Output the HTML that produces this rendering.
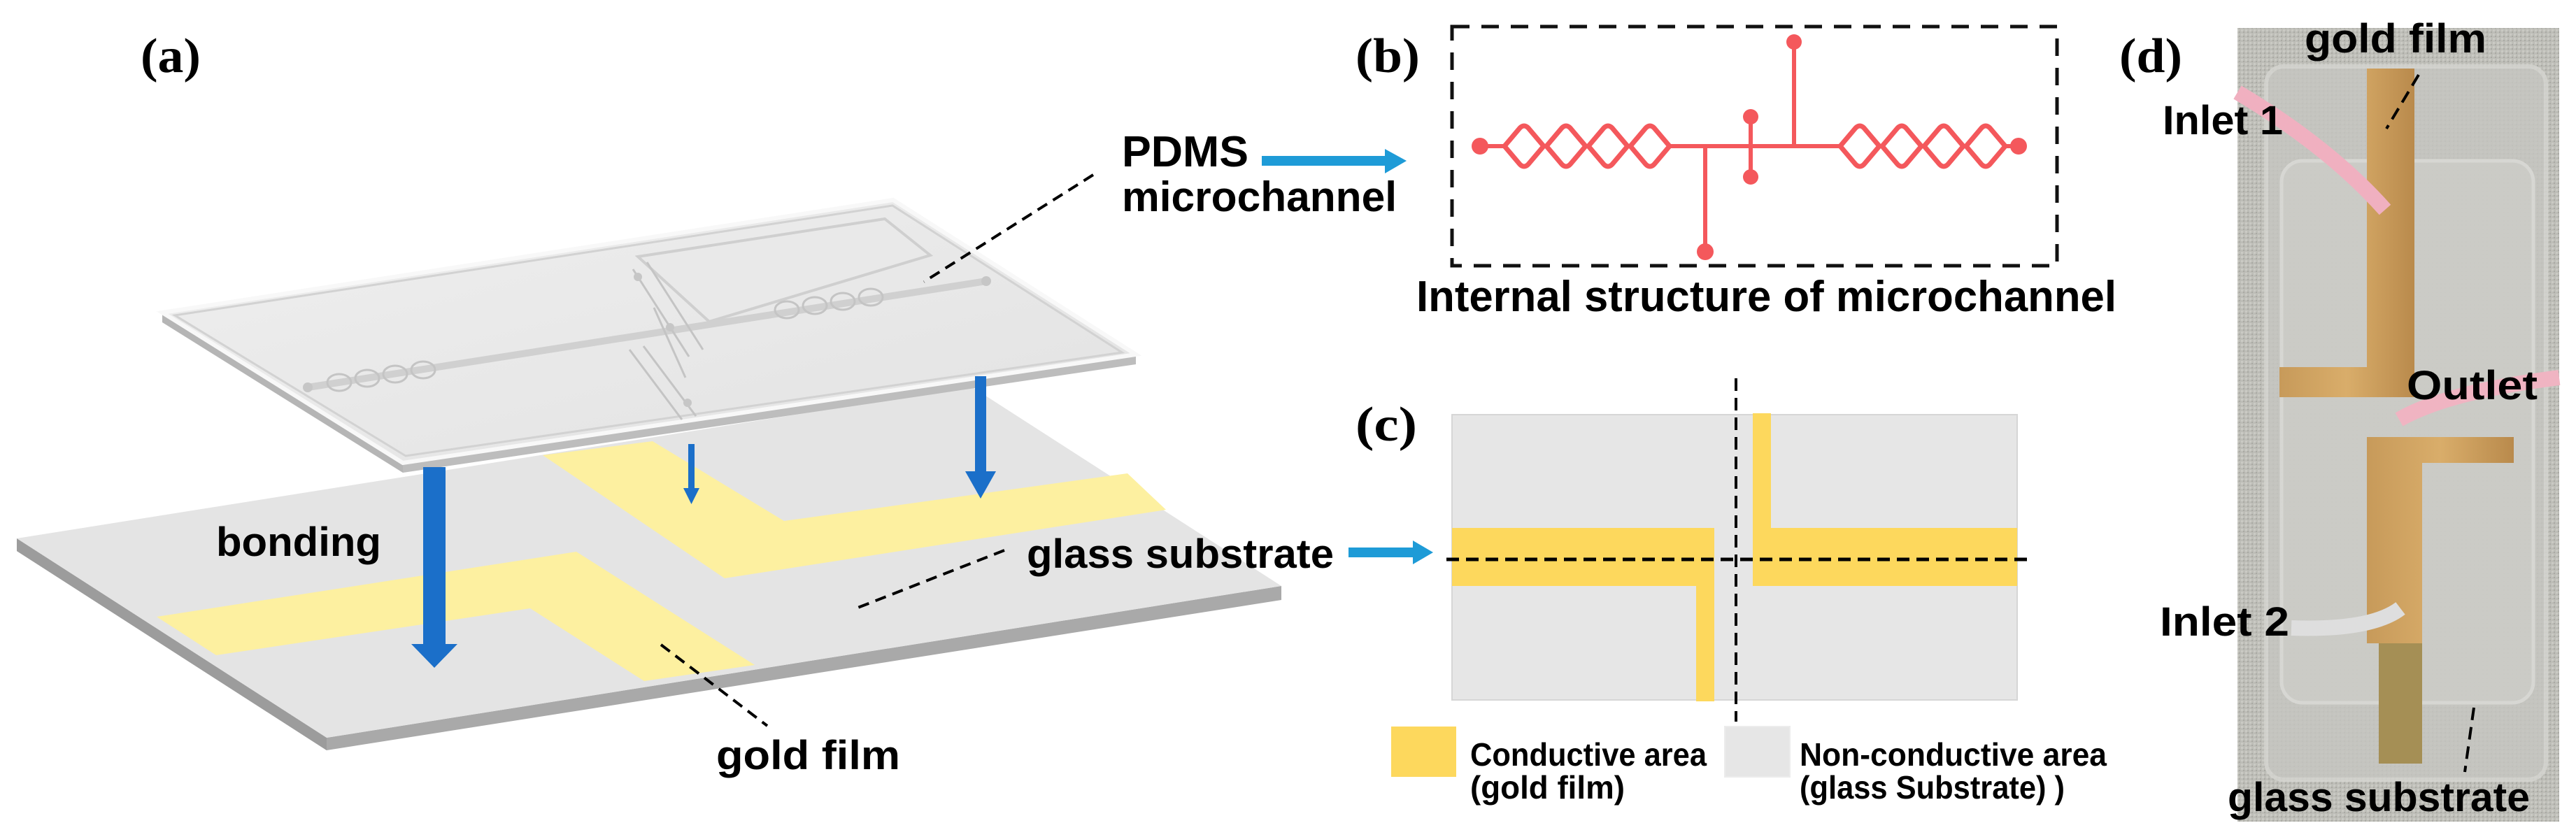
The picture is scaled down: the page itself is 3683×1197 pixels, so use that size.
<!DOCTYPE html>
<html><head><meta charset="utf-8"><style>
html,body{margin:0;padding:0;background:#fff;}
svg{display:block;}
text{font-family:"Liberation Sans",sans-serif;font-weight:bold;fill:#000;}
.ser{font-family:"Liberation Serif",serif;font-weight:bold;}
</style></head><body>
<svg width="3683" height="1197" viewBox="0 0 3683 1197" xmlns="http://www.w3.org/2000/svg">
<defs>
<linearGradient id="topg" x1="0" y1="0" x2="1" y2="1">
<stop offset="0" stop-color="#efefef"/><stop offset="1" stop-color="#e2e2e2"/></linearGradient>
<linearGradient id="gold1" x1="0" y1="0" x2="1" y2="0">
<stop offset="0" stop-color="#c79a5a"/><stop offset="0.5" stop-color="#d9ad6a"/><stop offset="1" stop-color="#b98a4c"/></linearGradient>
<pattern id="fab" width="6" height="6" patternUnits="userSpaceOnUse">
<rect width="6" height="6" fill="#bdbdb7"/><rect x="0" y="0" width="3" height="3" fill="#cacac4"/><rect x="3" y="3" width="2" height="2" fill="#a9a9a3"/></pattern>
</defs>

<text class="ser" x="201" y="103" font-size="70" textLength="86" lengthAdjust="spacingAndGlyphs">(a)</text>

<polygon points="24,770 467,1055 1832,838 1832,858 467,1073 24,788" fill="#a9a9a9"/>
<polygon points="24,770 467,1055 467,1073 24,788" fill="#9c9c9c"/>
<polygon points="24,770 467,1055 1832,838 1389,553" fill="#e4e4e4"/>
<polygon points="224,882 824,789 1079,951 921,974 758,870 309,937" fill="#fdf0a0"/>
<polygon points="776,651 933,631 1121,745 1612,677 1667,729 1036,827" fill="#fdf0a0"/>

<polygon points="232,447 576,662 576,676 232,461" fill="#b5b5b5"/>
<polygon points="576,662 1624,507 1624,521 576,676" fill="#bdbdbd"/>
<polygon points="232,447 1277,286 1624,507 576,662" fill="url(#topg)"/>
<polygon points="232,447 1277,286 1624,507 576,662" fill="none" stroke="#f8f8f8" stroke-width="6"/>
<polygon points="250,451 1276,294 1604,504 580,652" fill="none" stroke="#d2d2d2" stroke-width="3"/>
<polygon points="912,367 1265,313 1330,365 1014,460" fill="#e9e9e9" stroke="#cfcfcf" stroke-width="4"/>
<path d="M440,554 L1410,402" stroke="#d0d0d0" stroke-width="10"/>
<g fill="none" stroke="#c4c4c4" stroke-width="3">
<ellipse cx="485" cy="547" rx="17" ry="12"/><ellipse cx="525" cy="541" rx="17" ry="12"/><ellipse cx="565" cy="535" rx="17" ry="12"/><ellipse cx="605" cy="529" rx="17" ry="12"/>
<ellipse cx="1125" cy="443" rx="17" ry="12"/><ellipse cx="1165" cy="437" rx="17" ry="12"/><ellipse cx="1205" cy="431" rx="17" ry="12"/><ellipse cx="1245" cy="425" rx="17" ry="12"/>
<path d="M905,385 L985,510"/><path d="M925,375 L1005,500"/><path d="M935,440 L980,540"/><path d="M900,500 L975,600"/><path d="M920,495 L995,595"/>
</g>
<g fill="#c6c6c6"><circle cx="440" cy="554" r="7"/><circle cx="1410" cy="402" r="7"/><circle cx="912" cy="396" r="6"/><circle cx="958" cy="468" r="6"/><circle cx="983" cy="576" r="6"/></g>

<g fill="#1b6fc9">
<rect x="605" y="668" width="32" height="256"/><polygon points="588,921 654,921 621,955"/>
<rect x="984" y="635" width="9" height="65"/><polygon points="977,698 1000,698 988.5,721"/>
<rect x="1394" y="538" width="16" height="140"/><polygon points="1380,674 1424,674 1402,713"/>
</g>

<g stroke="#000" stroke-width="4" stroke-dasharray="16,10" fill="none">
<path d="M1563,250 L1321,403"/>
<path d="M1436,787 L1224,870"/>
<path d="M945,922 L1097,1038"/>
</g>
<text x="309" y="795" font-size="58" textLength="236" lengthAdjust="spacingAndGlyphs">bonding</text>
<text x="1468" y="812" font-size="58" textLength="439" lengthAdjust="spacingAndGlyphs">glass substrate</text>
<text x="1024" y="1100" font-size="58" textLength="263" lengthAdjust="spacingAndGlyphs">gold film</text>
<text x="1604" y="238" font-size="62" textLength="181" lengthAdjust="spacingAndGlyphs">PDMS</text>
<text x="1604" y="302" font-size="60" textLength="393" lengthAdjust="spacingAndGlyphs">microchannel</text>

<g fill="#1e9bd7">
<rect x="1804" y="223" width="180" height="14"/><polygon points="1980,213 2011,230 1980,248"/>
<rect x="1928" y="783" width="95" height="14"/><polygon points="2020,773 2049,790 2020,807"/>
</g>

<text class="ser" x="1938" y="103" font-size="70" textLength="92" lengthAdjust="spacingAndGlyphs">(b)</text>
<rect x="2076" y="38" width="865" height="342" fill="none" stroke="#111" stroke-width="5" stroke-dasharray="25,17"/>
<g stroke="#f4585c" stroke-width="6" fill="none">
<path d="M2116,209 L2151,209 M2387,209 L2631,209 M2867,209 L2886,209"/>
<path d="M2438,209 L2438,360 M2503,167 L2503,253 M2565,60 L2565,209"/>
</g>
<g stroke="#f4585c" stroke-width="7" fill="#fff">
<path d="M2151,209 L2173,183 Q2179,177 2185,183 L2207,209 L2185,235 Q2179,241 2173,235 Z"/>
<path d="M2211,209 L2233,183 Q2239,177 2245,183 L2267,209 L2245,235 Q2239,241 2233,235 Z"/>
<path d="M2271,209 L2293,183 Q2299,177 2305,183 L2327,209 L2305,235 Q2299,241 2293,235 Z"/>
<path d="M2331,209 L2353,183 Q2359,177 2365,183 L2387,209 L2365,235 Q2359,241 2353,235 Z"/>
<path d="M2631,209 L2653,183 Q2659,177 2665,183 L2687,209 L2665,235 Q2659,241 2653,235 Z"/>
<path d="M2691,209 L2713,183 Q2719,177 2725,183 L2747,209 L2725,235 Q2719,241 2713,235 Z"/>
<path d="M2751,209 L2773,183 Q2779,177 2785,183 L2807,209 L2785,235 Q2779,241 2773,235 Z"/>
<path d="M2811,209 L2833,183 Q2839,177 2845,183 L2867,209 L2845,235 Q2839,241 2833,235 Z"/>
</g>
<g fill="#f4585c">
<circle cx="2116" cy="209" r="12"/><circle cx="2886" cy="209" r="12"/>
<circle cx="2438" cy="360" r="12"/><circle cx="2503" cy="167" r="11"/><circle cx="2503" cy="253" r="11"/><circle cx="2565" cy="60" r="11"/>
</g>
<text x="2025" y="445" font-size="62" textLength="1001" lengthAdjust="spacingAndGlyphs">Internal structure of microchannel</text>

<text class="ser" x="1938" y="630" font-size="70" textLength="88" lengthAdjust="spacingAndGlyphs">(c)</text>
<rect x="2076" y="593" width="808" height="408" fill="#e6e6e6" stroke="#d6d6d6" stroke-width="2"/>
<g fill="#fdd85d">
<rect x="2076" y="755" width="375" height="83"/><rect x="2425" y="755" width="26" height="248"/>
<rect x="2506" y="755" width="378" height="83"/><rect x="2506" y="591" width="26" height="170"/>
</g>
<g stroke="#000" stroke-width="4" stroke-dasharray="18,10" fill="none">
<path d="M2482,541 L2482,1032"/>
<path d="M2068,800 L2902,800" stroke-width="5"/>
</g>
<rect x="1989" y="1039" width="93" height="72" fill="#fdd85d"/>
<rect x="2466" y="1039" width="93" height="72" fill="#e6e6e6" stroke="#ececec" stroke-width="2"/>
<text x="2102" y="1095" font-size="46" font-weight="normal" textLength="338" lengthAdjust="spacingAndGlyphs">Conductive area</text>
<text x="2102" y="1142" font-size="46" font-weight="normal" textLength="221" lengthAdjust="spacingAndGlyphs">(gold film)</text>
<text x="2573" y="1095" font-size="46" font-weight="normal" textLength="439" lengthAdjust="spacingAndGlyphs">Non-conductive area</text>
<text x="2573" y="1142" font-size="46" font-weight="normal" textLength="379" lengthAdjust="spacingAndGlyphs">(glass Substrate) )</text>

<text class="ser" x="3030" y="103" font-size="70" textLength="90" lengthAdjust="spacingAndGlyphs">(d)</text>
<rect x="3199" y="40" width="460" height="1135" fill="url(#fab)"/>
<rect x="3240" y="95" width="400" height="1020" rx="25" fill="#c6c6c1" opacity="0.8" stroke="#d6d6d2" stroke-width="6"/>
<rect x="3262" y="230" width="360" height="775" rx="30" fill="#cdcdc8" opacity="0.8" stroke="#dcdcd8" stroke-width="5"/>
<polygon points="3384,98 3452,98 3452,568 3259,568 3259,525 3384,525" fill="url(#gold1)"/>
<polygon points="3384,625 3594,625 3594,662 3463,662 3463,920 3384,920" fill="url(#gold1)"/>
<rect x="3401" y="920" width="62" height="172" fill="#a58f55"/>
<path d="M3199,132 Q3330,210 3410,300" stroke="#f0b0c0" stroke-width="22" fill="none"/>
<path d="M3659,540 Q3500,560 3430,600" stroke="#f0b4c2" stroke-width="22" fill="none"/>
<path d="M3276,898 Q3390,902 3432,870" stroke="#dedede" stroke-width="22" fill="none"/>
<g stroke="#000" stroke-width="4" stroke-dasharray="18,10" fill="none">
<path d="M3458,107 L3412,184"/><path d="M3537,1012 L3524,1104"/>
</g>
<text x="3295" y="75" font-size="58" textLength="260" lengthAdjust="spacingAndGlyphs">gold film</text>
<text x="3092" y="192" font-size="58" textLength="172" lengthAdjust="spacingAndGlyphs">Inlet 1</text>
<text x="3441" y="571" font-size="58" textLength="187" lengthAdjust="spacingAndGlyphs">Outlet</text>
<text x="3088" y="909" font-size="58" textLength="185" lengthAdjust="spacingAndGlyphs">Inlet 2</text>
<text x="3185" y="1160" font-size="58" textLength="432" lengthAdjust="spacingAndGlyphs">glass substrate</text>
</svg>
</body></html>
